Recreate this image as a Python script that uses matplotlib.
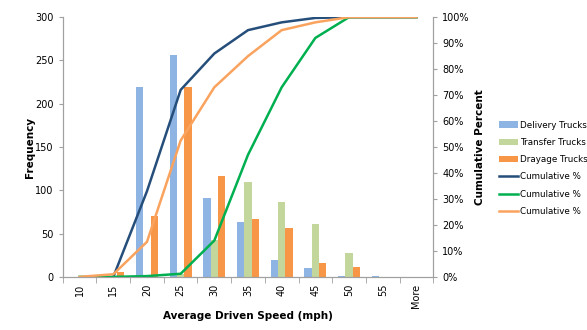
import matplotlib.pyplot as plt
import numpy as np

categories = ['10', '15', '20', '25', '30', '35', '40', '45', '50', '55', 'More']
delivery = [0, 0, 219, 256, 91, 63, 19, 10, 1, 1, 0]
transfer = [0, 0, 0, 3, 43, 110, 87, 61, 28, 0, 0]
drayage = [0, 6, 70, 219, 117, 67, 56, 16, 11, 0, 0]
cum_delivery = [0, 0, 33, 72, 86, 95, 98, 99.7, 100, 100, 100]
cum_transfer = [0, 0, 0.3, 1.2, 14, 47, 73, 92, 100, 100, 100]
cum_drayage = [0, 1, 13.5, 52.5, 73, 85, 95, 98, 100, 100, 100]

fig = plt.figure(figsize=(5.87, 3.30), dpi=100)
ax = fig.add_axes([0.107, 0.161, 0.631, 0.787])
ax2 = ax.twinx()

x = np.arange(len(categories))
w = 0.22
b1 = ax.bar(x - w, delivery, w, color='#8EB4E3', label='Delivery Trucks')
b2 = ax.bar(x, transfer, w, color='#C3D69B', label='Transfer Trucks')
b3 = ax.bar(x + w, drayage, w, color='#F79646', label='Drayage Trucks')

# delivery cumulative line starts at the 15 bin in the original
l1, = ax2.plot(x[1:], cum_delivery[1:], color='#254E7B', lw=1.8, label='Cumulative %')
l2, = ax2.plot(x, cum_transfer, color='#00B050', lw=1.8, label='Cumulative %')
l3, = ax2.plot(x, cum_drayage, color='#F9A35E', lw=1.8, label='Cumulative %')

ax.set_xlim(-0.5, len(categories) - 0.5)
ax.set_ylim(0, 300)
ax2.set_ylim(0, 100)
ax.set_yticks(range(0, 301, 50))
ax2.set_yticks(range(0, 101, 10))
ax2.set_yticklabels([f'{v}%' for v in range(0, 101, 10)])

ax.set_xticks(x)
ax.set_xticklabels(categories, rotation=90)
ax.set_xticks(np.arange(-0.5, len(categories), 1), minor=True)
ax.tick_params(axis='x', which='major', length=0, pad=5)
ax.tick_params(axis='x', which='minor', length=4, color='#A0A0A0')

for a in (ax, ax2):
    for s in a.spines.values():
        s.set_color('#A0A0A0')
    a.spines['top'].set_visible(False)
    a.tick_params(axis='y', length=3, color='#A0A0A0', labelsize=7)
ax.tick_params(axis='x', labelsize=7)

ax.set_xlabel('Average Driven Speed (mph)', fontsize=7.5, fontweight='bold', labelpad=2)
ax.set_ylabel('Frequency', fontsize=7.5, fontweight='bold', labelpad=0)
ax2.set_ylabel('Cumulative Percent', fontsize=7.5, fontweight='bold', labelpad=4)

handles = [b1, b2, b3, l1, l2, l3]
fig.legend(handles, [h.get_label() for h in handles], loc='center left',
           bbox_to_anchor=(0.85, 0.49), frameon=False, fontsize=6.3,
           handlelength=2.2, handletextpad=0.2, labelspacing=0.95,
           borderaxespad=0, borderpad=0)

fig.savefig('out.png', dpi=100)
